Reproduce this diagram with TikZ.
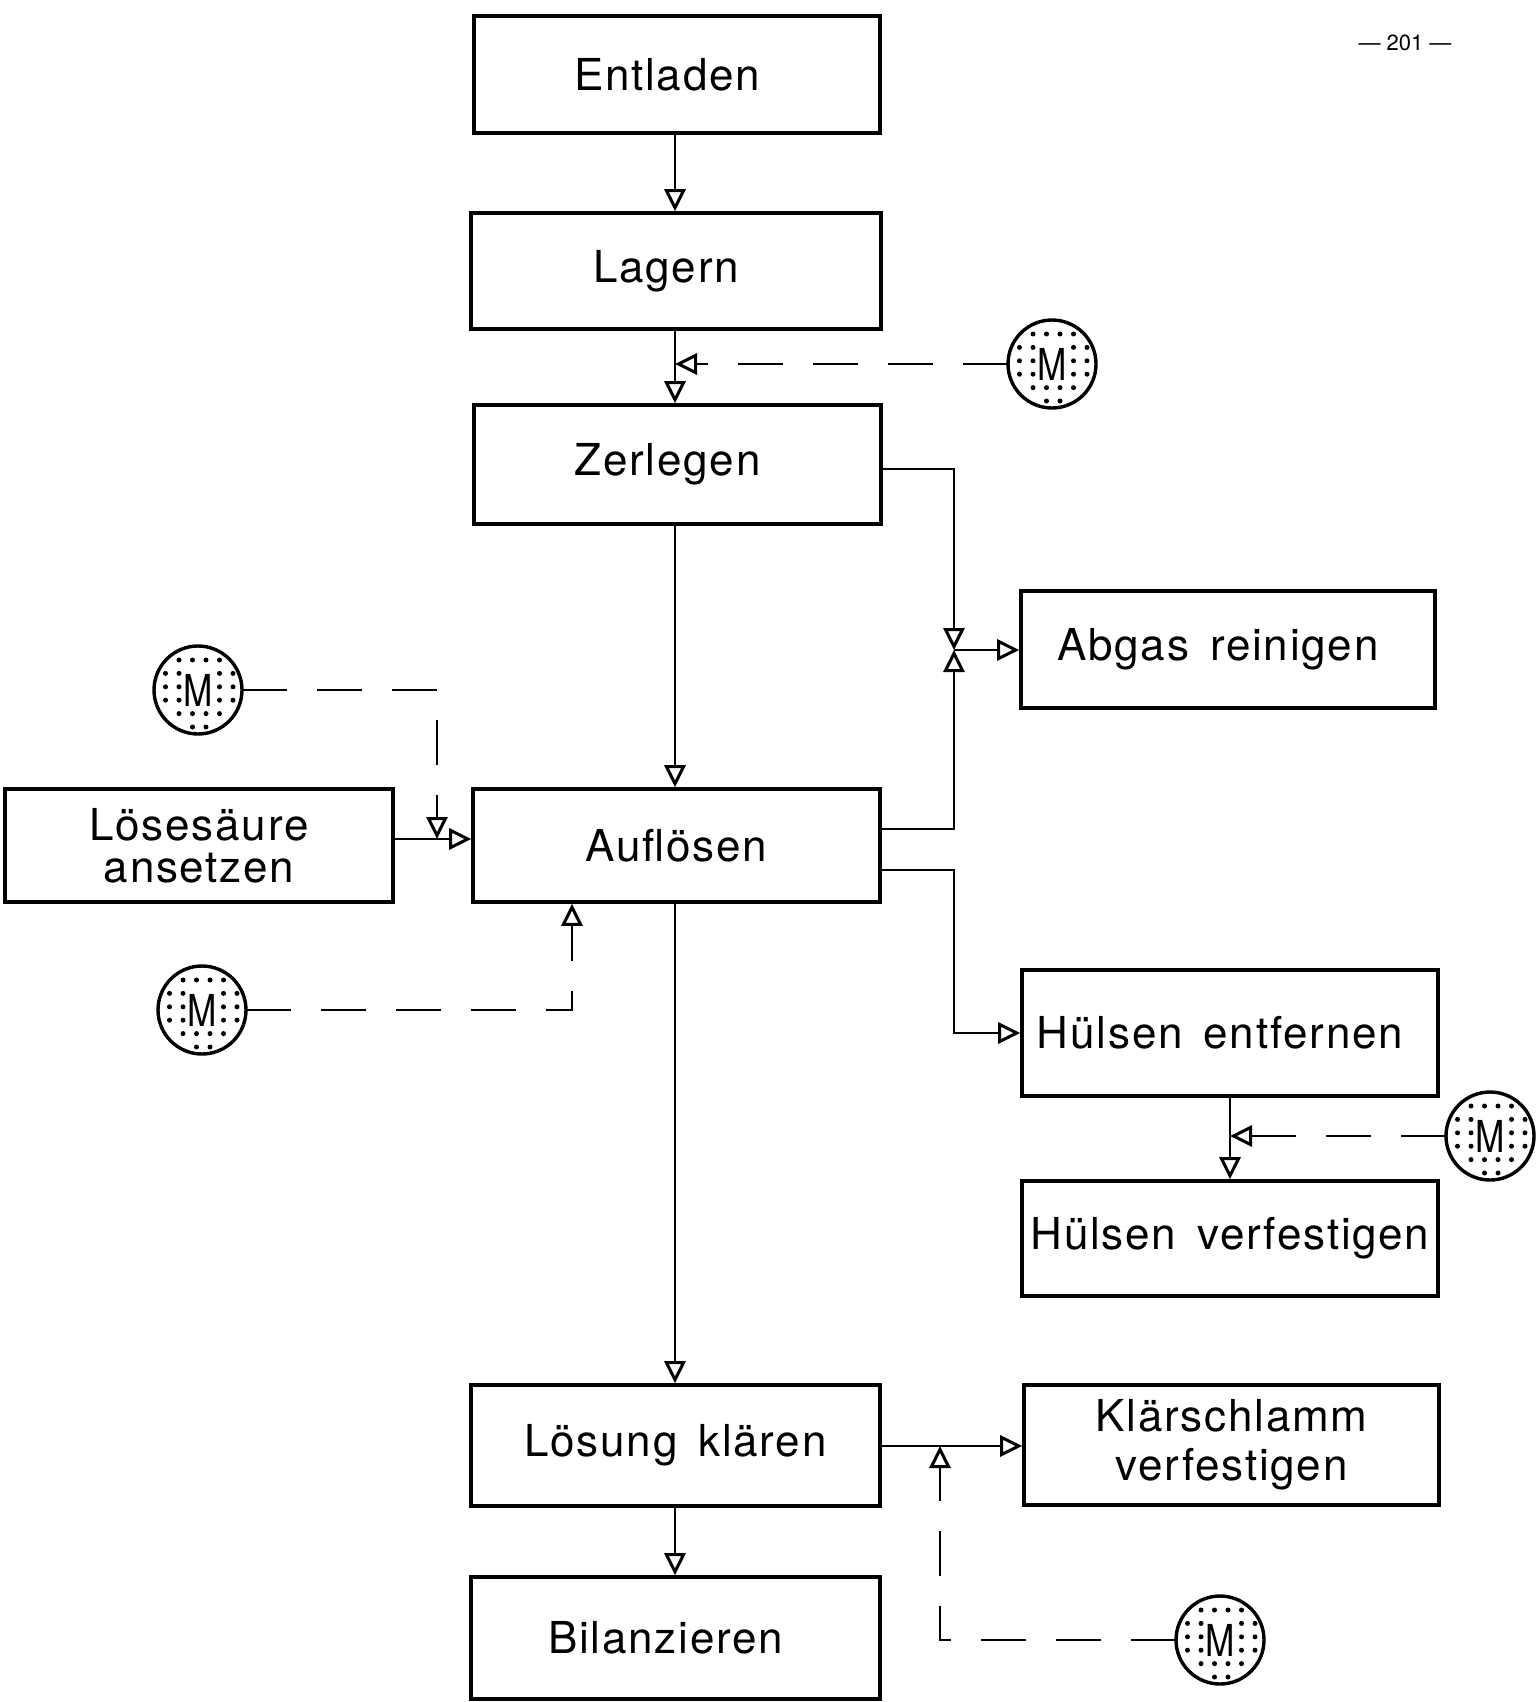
\documentclass[tikz,border=0pt]{standalone}
\usepackage{fontspec}
\setmainfont[LetterSpace=4,WordSpace=1.5]{TeX Gyre Heros}
\newfontfamily\pagefont{TeX Gyre Heros}
\usetikzlibrary{arrows.meta}

\tikzset{
  stepbox/.style={draw, line width=3.6pt, inner sep=0pt, align=center,
    font=\fontsize{44}{44}\selectfont},
  flow/.style={line width=2.6pt,
    -{Triangle[open, length=22pt, width=21pt, line width=3pt]}},
  ctrl/.style={flow, dash pattern=on 45pt off 30pt},
  motor/.pic={
    \draw[line width=3.4pt, fill=white] (0,0) circle (44);
    \foreach \i in {-2,...,3} {
      \foreach \j in {0,...,5} {
        \pgfmathsetmacro\dx{-5.5+13.5*\i}
        \pgfmathsetmacro\dy{-30+13.4*\j}
        \pgfmathparse{(\dx*\dx+\dy*\dy<1550) && !(abs(\dx)<10 && abs(\dy)<20) ? 1 : 0}
        \ifnum\pgfmathresult=1 \fill (\dx,\dy) circle (2.5); \fi
      }
    }
    \node[inner sep=0pt, font=\fontsize{44}{44}\selectfont] (-m) at (0,0) {\scalebox{0.8}[1]{M}};
  }
}
% trailing space that moves a centred label slightly to the left
\newcommand{\labelpad}{\hspace*{20pt}}

\begin{document}
\begin{tikzpicture}[x=1pt, y=-1pt]
\useasboundingbox (0,0) rectangle (1539,1702);

% process steps
\node[stepbox, minimum width=406, minimum height=117] (entl) at (677,74.5) {Entladen\labelpad};
\node[stepbox, minimum width=410, minimum height=116] (lag) at (676,271) {Lagern\labelpad};
\node[stepbox, minimum width=407, minimum height=119] (zerl) at (677.5,464.5) {Zerlegen\labelpad};
\node[stepbox, minimum width=414, minimum height=117] (abgas) at (1228,649.5) {Abgas reinigen\labelpad};
\node[stepbox, minimum width=388, minimum height=113,
      font=\fontsize{44}{42}\selectfont] (loese) at (199,845.5) {Lösesäure\\ansetzen};
\node[stepbox, minimum width=407, minimum height=113] (aufl) at (676.5,845.5) {Auflösen};
\node[stepbox, minimum width=416, minimum height=126] (hentf) at (1230,1033) {Hülsen entfernen\labelpad};
\node[stepbox, minimum width=416, minimum height=115] (hverf) at (1230,1238.5) {Hülsen verfestigen};
\node[stepbox, minimum width=409, minimum height=121] (klaer) at (675.5,1445.5) {Lösung klären};
\node[stepbox, minimum width=415, minimum height=120,
      font=\fontsize{44}{49}\selectfont] (schl) at (1231.5,1445) {Klärschlamm\\verfestigen};
\node[stepbox, minimum width=409, minimum height=122] (bil) at (675.5,1638) {Bilanzieren\labelpad};

% page number
\node[font=\pagefont\fontsize{22}{22}\selectfont] (pnum) at (1405,43) {— 201 —};

% metering units
\pic (m1) at (1052,364) {motor};
\pic (m2) at (198,690) {motor};
\pic (m3) at (202,1010) {motor};
\pic (m4) at (1490,1136) {motor};
\pic (m5) at (1220,1640) {motor};

% guide coordinates
\coordinate (axis) at (675,0);
\coordinate (branch) at (954,0);
\coordinate (junc) at (954,650);
\coordinate (m1in) at (675,364);
\coordinate (acidin) at (437,839);
\coordinate (m3up) at (572,0);
\coordinate (m4in) at (1230,1136);
\coordinate (m5up) at (940,1446);

% main line
\draw[flow] (entl.south -| axis) -- (lag.north -| axis);
\draw[flow] (lag.south -| axis) -- (zerl.north -| axis);
\draw[flow] (zerl.south -| axis) -- (aufl.north -| axis);
\draw[flow] (aufl.south -| axis) -- (klaer.north -| axis);
\draw[flow] (klaer.south -| axis) -- (bil.north -| axis);

% off-gas
\draw[flow] (zerl.east |- 0,469) -| (junc);
\draw[flow] (aufl.east |- 0,829) -| (junc);
\draw[flow] (junc) -- (abgas.west |- junc);

% hulls
\draw[flow] (aufl.east |- 0,870) -| (branch |- hentf.west) -- (hentf.west);
\draw[flow] (hentf.south) -- (hverf.north);

% acid make-up
\draw[flow] (loese.east |- acidin) -- (aufl.west |- acidin);

% sludge
\draw[flow] (klaer.east |- 0,1446) -- (schl.west |- 0,1446);

% metering lines, starting at the rim of each unit
\draw[ctrl] (m1-m) ++(-44,0) -- (m1in);
\draw[ctrl] (m2-m) ++(44,0) -| (acidin);
\draw[ctrl] (m3-m) ++(44,0) -| (m3up |- aufl.south);
\draw[ctrl] (m4-m) ++(-44,0) -- (m4in);
\draw[ctrl] (m5-m) ++(-44,0) -| (m5up);
\end{tikzpicture}
\end{document}
